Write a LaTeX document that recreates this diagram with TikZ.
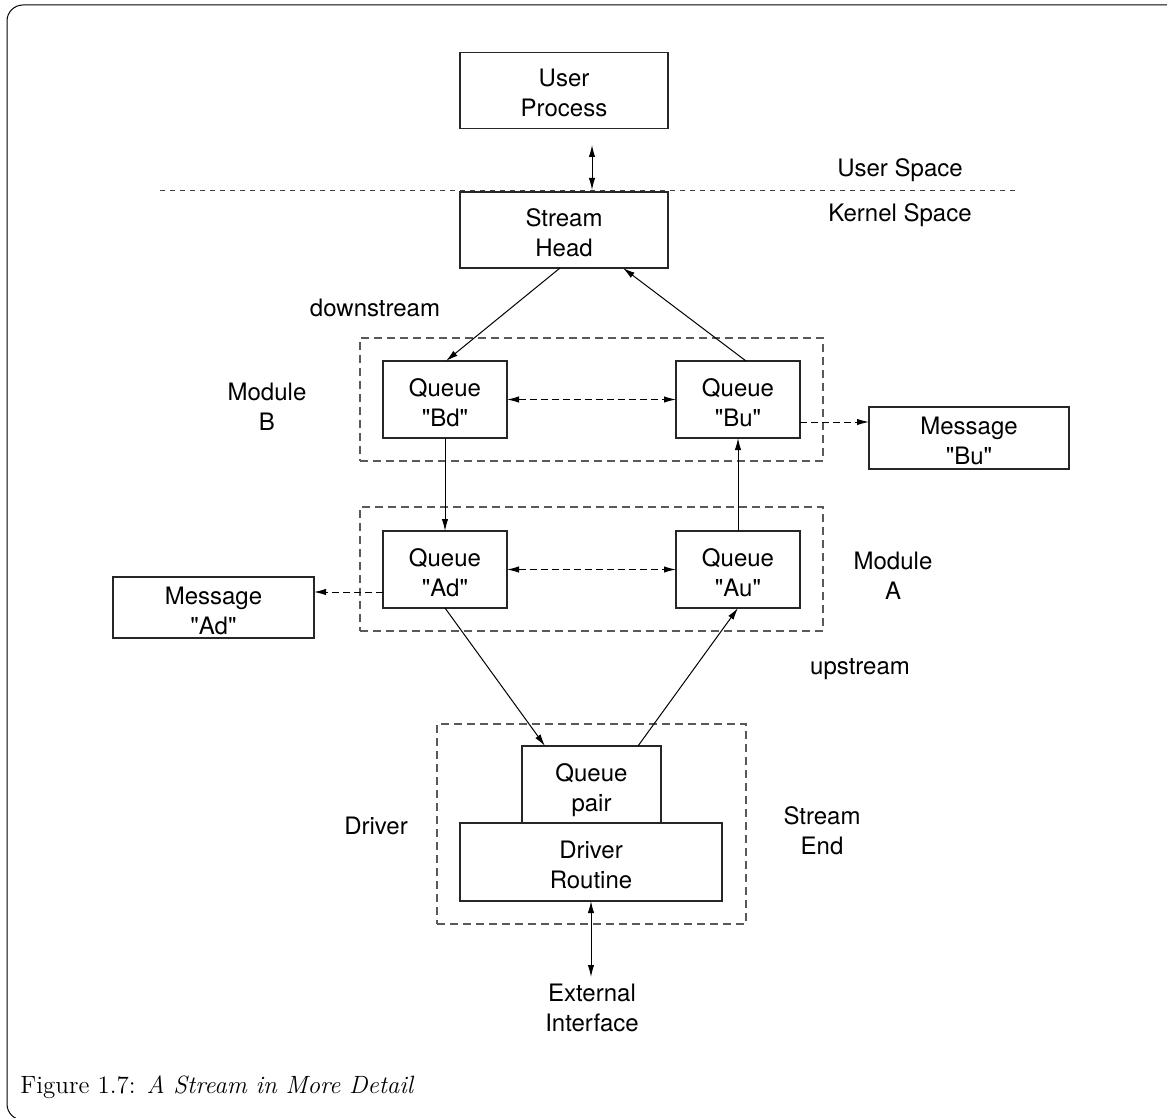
\documentclass[tikz,border=0pt]{standalone}
\usepackage{fontspec}
\newfontfamily\hv{TeX Gyre Heros}
\usetikzlibrary{arrows.meta,calc}
\begin{document}
\begin{tikzpicture}[x=0.5pt,y=-0.5pt,
  txt/.style={font=\hv\fontsize{12}{15}\selectfont,align=center},
  box/.style={txt,draw=black!85,line width=0.6pt,inner sep=0pt,outer sep=0pt,
              text height=26.5pt,text depth=0pt},
  lbl/.style={txt,inner sep=0pt},
  modbox/.style={draw=black!65,line width=0.6pt,inner sep=0pt,outer sep=0pt,
                 dash pattern=on 4pt off 2.5pt},
  sepline/.style={draw=black!75,line width=0.5pt,dash pattern=on 2.5pt off 2.5pt},
  tip/.style={-{Latex[length=6pt,width=3.2pt]}},
  flow/.style={tip,draw=black,line width=0.5pt},
  both/.style={{Latex[length=6pt,width=3.2pt]}-{Latex[length=6pt,width=3.2pt]},
               draw=black,line width=0.5pt},
  dflow/.style={flow,dash pattern=on 3.5pt off 2pt},
  dboth/.style={both,dash pattern=on 3.5pt off 2pt}
]
\useasboundingbox (0,0) rectangle (1167,1118);
\clip (0,0) rectangle (1167,1118);

% outer frame
\draw[line width=0.5pt,rounded corners=8pt] (7,5) rectangle (1190,1120);

% dashed module outlines
\node[modbox,minimum width=231.5pt,minimum height=61.5pt] (modB) at (591.5,399.5) {};
\node[modbox,minimum width=231.5pt,minimum height=62pt]   (modA) at (591.5,569) {};
\node[modbox,minimum width=154.5pt,minimum height=100pt]  (drv)  at (591.5,824) {};

% user / kernel separator
\coordinate (sepL) at (160,191);
\coordinate (sepR) at (1018,191);
\draw[sepline] (sepL) -- (sepR);

% boxes
\node[box,minimum width=104pt,minimum height=38pt] (up) at (564,90.5) {User\\Process};
\node[box,minimum width=104pt,minimum height=38pt] (sh) at (564,230) {Stream\\Head};
\node[box,minimum width=62pt,minimum height=38.5pt] (bd) at (445,399.5) {Queue\\"Bd"};
\node[box,minimum width=62pt,minimum height=38.5pt] (bu) at (738,399.5) {Queue\\"Bu"};
\node[box,minimum width=62pt,minimum height=38.5pt] (ad) at (445,569.5) {Queue\\"Ad"};
\node[box,minimum width=62pt,minimum height=38.5pt] (au) at (738,569.5) {Queue\\"Au"};
\node[box,minimum width=100pt,minimum height=31pt] (mbu) at (969,438) {Message\\"Bu"};
\node[box,minimum width=100.5pt,minimum height=30.5pt] (mad) at (213.5,607.5) {Message\\"Ad"};
\node[box,minimum width=69.5pt,minimum height=38.5pt] (qp) at (591.5,784.5) {Queue\\pair};
\node[box,minimum width=131pt,minimum height=39pt] (dr) at (591,862) {Driver\\Routine};

% labels
\node[lbl] (us)  at (900,170) {User Space};
\node[lbl] (ks)  at (900,215) {Kernel Space};
\node[lbl] (dn)  at (375,308) {downstream};
\node[lbl] (lmb) at (267,407) {Module\\B};
\node[lbl] (lma) at (893,576) {Module\\A};
\node[lbl] (ups) at (860,669) {upstream};
\node[lbl] (ldr) at (376,826) {Driver};
\node[lbl] (lse) at (822,831) {Stream\\End};
\node[lbl] (ext) at (592,1008) {External\\Interface};

% user process <-> stream head
\coordinate (upTip) at (592,145);
\coordinate (shTip) at (592,190);
\draw[both] (upTip) -- (shTip);

% downstream / upstream paths
\draw[flow] ($(sh.south)+(-4,0)$) -- ($(bd.north)+(1,0)$);
\draw[flow] ($(bu.north)+(8,0)$) -- ($(sh.south)+(59,0)$);
\draw[flow] (bd.south) -- (ad.north);
\draw[flow] (au.north) -- (bu.south);
\draw[flow] (ad.south) -- ($(qp.north)+(-46.5,0)$);
\draw[flow] ($(qp.north)+(46.5,0)$) -- (au.south);

% queue pairing
\draw[dboth] (bd.east) -- (bu.west);
\draw[dboth] (ad.east) -- (au.west);

% messages
\coordinate (buOut) at ($(bu.east)+(0,22.5)$);
\coordinate (adOut) at ($(ad.west)+(0,22.5)$);
\draw[dflow] (buOut) -- (buOut -| mbu.west);
\draw[dflow] (adOut) -- (adOut -| mad.east);

% external interface
\coordinate (extTip) at (591,977);
\draw[both] (dr.south) -- (extTip);

% caption
\node[anchor=base west,inner sep=0pt,font=\fontsize{12.5}{14}\selectfont] (cap) at (20,1093)
  {Figure 1.7: \textit{A Stream in More Detail}};
\end{tikzpicture}
\end{document}
